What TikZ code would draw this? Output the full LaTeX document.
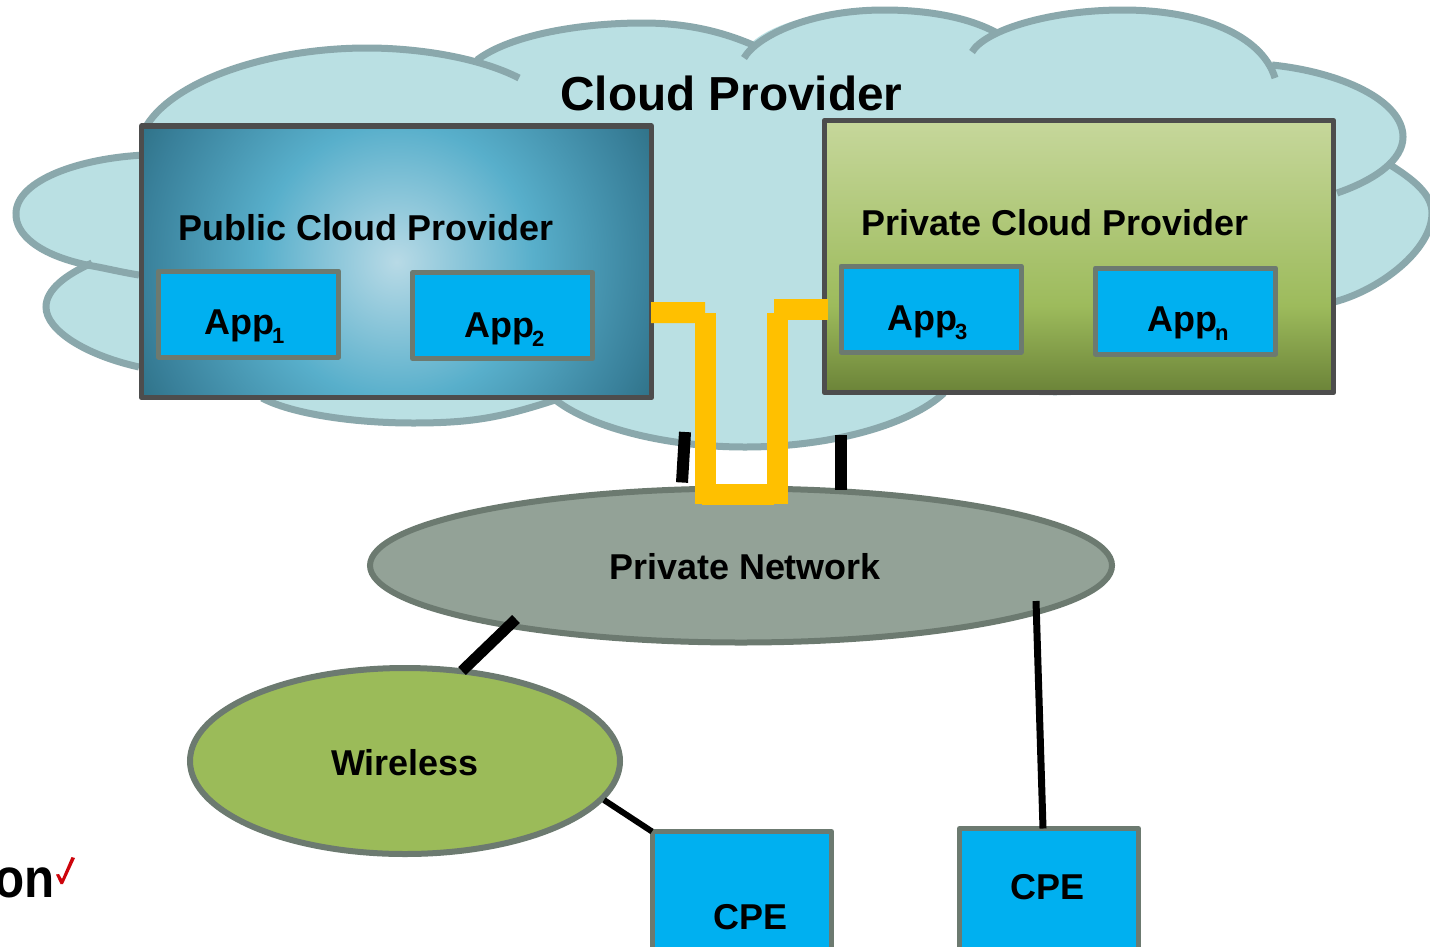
\documentclass[tikz,border=0pt]{standalone}
\usepackage{fontspec}
\setmainfont{Liberation Sans}
\usetikzlibrary{shapes.geometric,calc}
\definecolor{cloudfill}{HTML}{BAE0E3}
\definecolor{cloudline}{HTML}{8AA8AC}
\definecolor{boxline}{HTML}{4D4D4D}
\definecolor{appline}{HTML}{6C7A70}
\definecolor{appfill}{HTML}{00B0F0}
\definecolor{pnfill}{HTML}{93A297}
\definecolor{wfill}{HTML}{9BBB59}
\definecolor{link}{HTML}{FFC000}
\definecolor{pubA}{HTML}{B8DAE6}
\definecolor{pubB}{HTML}{58AFCB}
\definecolor{pubC}{HTML}{39809A}
\definecolor{pubD}{HTML}{2E7085}
\definecolor{privT}{HTML}{C6D79B}
\definecolor{privM}{HTML}{9DBB5C}
\definecolor{privB}{HTML}{6B8338}
\definecolor{logored}{HTML}{CD040B}
\pgfdeclareradialshading{pubgrad}{\pgfpointorigin}{color(0bp)=(pubA); color(11.6bp)=(pubB); color(21.6bp)=(pubC); color(25bp)=(pubD); color(50bp)=(pubD)}
\pgfdeclareverticalshading{privgrad}{100bp}{color(0bp)=(privB); color(25bp)=(privB); color(41bp)=(privM); color(75bp)=(privT); color(100bp)=(privT)}
\newcommand{\cloudpath}{
  (87,267) .. controls (40,255) and (15,235) .. (16,213) .. controls (17,180) and (80,158) .. (139,155)
  -- (147,125) .. controls (175,80) and (270,48) .. (367,48) .. controls (400,48) and (445,52) .. (477,60)
  .. controls (510,35) and (580,23) .. (643,23) .. controls (690,23) and (725,33) .. (751,43)
  .. controls (775,22) and (820,10) .. (884,10) .. controls (930,10) and (970,18) .. (995,32)
  .. controls (1030,18) and (1075,10) .. (1123,10) .. controls (1200,10) and (1255,30) .. (1272,65)
  .. controls (1340,72) and (1403,100) .. (1403,137) .. controls (1403,145) and (1397,155) .. (1387,163)
  .. controls (1415,180) and (1432,195) .. (1432,213) .. controls (1432,250) and (1380,290) .. (1334,302)
  -- (1110,388) .. controls (1080,393) and (1030,393) .. (1000,388) -- (944,393)
  .. controls (910,425) and (830,447) .. (745,447) .. controls (660,447) and (585,425) .. (555,400)
  .. controls (500,418) and (470,423) .. (413,423) .. controls (350,423) and (290,413) .. (262,398)
  -- (139,367) .. controls (85,355) and (46,330) .. (46,307) .. controls (46,290) and (65,275) .. (87,267) -- cycle}
\tikzset{
  cloudedge/.style={draw=cloudline,line width=5.25pt,line cap=butt},
  provbox/.style={draw=boxline,line width=4.1pt,rectangle,inner sep=0pt,outer sep=0pt,line join=round},
  appbox/.style={draw=appline,fill=appfill,line width=3.75pt,rectangle,inner sep=0pt,outer sep=0pt,minimum width=135pt,minimum height=64.5pt,line join=round},
  cpebox/.style={draw=appline,fill=appfill,line width=3.75pt,rectangle,inner sep=0pt,outer sep=0pt,minimum width=134.25pt,minimum height=150pt,line join=round},
  netshape/.style={draw=appline,line width=4.5pt,ellipse,inner sep=0pt,outer sep=0pt},
  lab/.style={font=\fontsize{26.95}{30}\selectfont\bfseries,anchor=base west,inner sep=0pt,text=black},
  bigl/.style={font=\fontsize{35.8}{40}\selectfont\bfseries,anchor=base west,inner sep=0pt,text=black},
  blackline/.style={draw=black,line cap=butt},
  yellowline/.style={draw=link,line width=15.75pt,line cap=butt}
}
\newcommand{\sbs}[1]{\kern-1.5pt\raisebox{-6.75pt}{\fontsize{16.5}{20}\selectfont #1}}
\begin{document}
\begin{tikzpicture}[x=0.75pt,y=-0.75pt]
\useasboundingbox (0,0) rectangle (1430,946);
\clip (0,0) rectangle (1430,946);
\fill[white] (0,0) rectangle (1430,946);
% cloud
\fill[cloudfill] \cloudpath;
\draw[cloudedge] (139,275) .. controls (120,272) and (105,268) .. (87,265) .. controls (40,255) and (15,235) .. (16,213) .. controls (17,180) and (80,158) .. (145,155);
\draw[cloudedge] (147,125) .. controls (175,80) and (270,48) .. (367,48) .. controls (420,48) and (480,58) .. (519,78);
\draw[cloudedge] (477,60) .. controls (510,35) and (580,23) .. (643,23) .. controls (690,23) and (725,33) .. (753,45);
\draw[cloudedge] (744,58) .. controls (757,36) and (810,10) .. (884,10) .. controls (930,10) and (970,18) .. (997,33);
\draw[cloudedge] (972,52) .. controls (985,30) and (1050,10) .. (1123,10) .. controls (1200,10) and (1262,35) .. (1275,78);
\draw[cloudedge] (1272,65) .. controls (1340,72) and (1403,100) .. (1403,137) .. controls (1403,160) and (1375,180) .. (1337,193);
\draw[cloudedge] (1387,163) .. controls (1415,180) and (1432,195) .. (1432,213) .. controls (1432,250) and (1380,290) .. (1334,302);
\draw[cloudedge] (1110,388) .. controls (1080,393) and (1030,393) .. (1000,388);
\draw[cloudedge] (944,393) .. controls (910,425) and (830,447) .. (745,447) .. controls (660,447) and (585,425) .. (553,398);
\draw[cloudedge] (555,400) .. controls (500,418) and (470,423) .. (413,423) .. controls (350,423) and (290,413) .. (262,398);
\draw[cloudedge] (139,367) .. controls (85,355) and (46,330) .. (46,307) .. controls (46,290) and (65,275) .. (92,263);
\node[bigl] (cloudlabel) at (560,110) {Cloud Provider};
% provider boxes
\node[provbox,minimum width=382.5pt,minimum height=203.6pt,path picture={\shade[shading=pubgrad] (path picture bounding box.center) circle[radius=221.25pt];}] (pub) at (396.5,261.8) {};
\node[provbox,shade,shading=privgrad,minimum width=382pt,minimum height=204pt] (priv) at (1079,256.5) {};
\node[lab] (publabel) at (178,240) {Public Cloud Provider};
\node[lab] (privlabel) at (861,235) {Private Cloud Provider};
\node[appbox] (app1) at (248.5,314) {};
\node[appbox] (app2) at (502.5,315.5) {};
\node[appbox] (app3) at (931,309) {};
\node[appbox] (appn) at (1185.5,311) {};
\node[lab] (app1t) at (204,334) {App\sbs{1}};
\node[lab] (app2t) at (464,337) {App\sbs{2}};
\node[lab] (app3t) at (887,330) {App\sbs{3}};
\node[lab] (appnt) at (1147,331) {App\sbs{n}};
% networks
\node[netshape,fill=pnfill,minimum width=556.5pt,minimum height=115.5pt] (pn) at (741,565.5) {};
\node[netshape,fill=wfill,minimum width=322.5pt,minimum height=139.5pt] (wl) at (405,761) {};
\node[lab] (pnt) at (609,579) {Private Network};
\node[lab] (wlt) at (331,775) {Wireless};
% CPE
\node[cpebox] (cpe1) at (742,931.5) {};
\node[cpebox] (cpe2) at (1049,928.5) {};
\node[lab] (cpe1t) at (713,929) {CPE};
\node[lab] (cpe2t) at (1010,899) {CPE};
% connectors
\draw[blackline,line width=9pt] ($(pn.center)+(-56,-133.5)$) coordinate (ca) -- ($(pn.center)+(-59,-83)$) coordinate (cb);
\draw[blackline,line width=9pt] ($(pn.center)+(100,-130.5)$) coordinate (cc) -- ($(pn.center)+(100,-75.5)$) coordinate (cd);
\draw[blackline,line width=8.25pt] ($(pn.center)+(-225,53.5)$) coordinate (ce) -- ($(wl.center)+(57,-90)$) coordinate (cf);
\draw[blackline,line width=5.25pt] ($(pn.center)+(295,35.5)$) coordinate (cg) -- ($(cpe2.center)+(-6,-100)$) coordinate (ch);
\draw[blackline,line width=4.5pt] ($(wl.center)+(199,39)$) coordinate (ci) -- ($(cpe1.center)+(-90,-100)$) coordinate (cj);
% yellow link
\coordinate (ya) at ($(pub.center)+(254.5,50.7)$);
\coordinate (yb) at ($(priv.center)+(-251,53)$);
\coordinate (yc) at (705,312.5);
\coordinate (yd) at (705.5,313);
\coordinate (ye) at (705.5,504);
\coordinate (yf) at (702,494.5);
\coordinate (yg) at (774,494.5);
\coordinate (yh) at (777.5,504);
\coordinate (yi) at (777.5,313);
\coordinate (yj) at (774,309.5);
\draw[yellowline] (ya) -- (yc);
\draw[yellowline] (yd) -- (ye);
\draw[yellowline] (yf) -- (yg);
\draw[yellowline] (yh) -- (yi);
\draw[yellowline] (yj) -- (yb);
% logo
\node[font=\fontsize{37}{40}\selectfont\bfseries,anchor=base east,inner sep=0pt,yscale=1.12,transform shape] (logo) at (55,897) {on};
\fill[logored] (56,874.5) -- (59,874) -- (62,879) -- (71.5,857) -- (75,858) -- (63,884) -- (60.5,884) -- cycle;
\end{tikzpicture}
\end{document}
